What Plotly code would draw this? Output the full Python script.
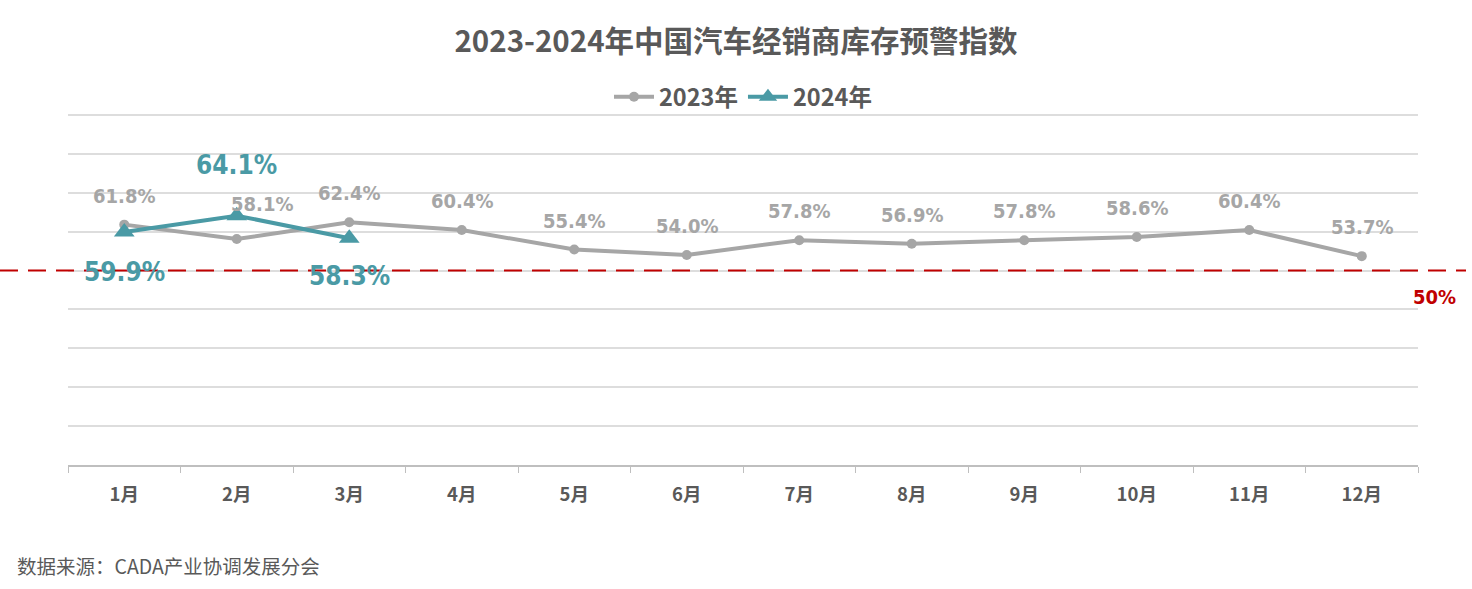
import plotly.graph_objects as go

months = ["1月", "2月", "3月", "4月", "5月", "6月", "7月", "8月", "9月", "10月", "11月", "12月"]
v2023 = [61.8, 58.1, 62.4, 60.4, 55.4, 54.0, 57.8, 56.9, 57.8, 58.6, 60.4, 53.7]
months2024 = ["1月", "2月", "3月"]
v2024 = [59.9, 64.1, 58.3]
warn_line = 50

GRAY = "#A6A6A6"
TEAL = "#4A9AA5"
RED = "#C00000"
CJK = "Noto Sans CJK SC"
NARROW = "DejaVu Sans Condensed, Liberation Sans Narrow, sans-serif"

fig = go.Figure()
fig.add_trace(go.Scatter(x=months, y=v2023, name="2023年", mode="lines+markers",
                         line=dict(color=GRAY, width=4),
                         marker=dict(symbol="circle", size=10, color=GRAY)))
fig.add_trace(go.Scatter(x=months2024, y=v2024, name="2024年", mode="lines+markers",
                         line=dict(color=TEAL, width=4),
                         marker=dict(symbol="triangle-up", size=18, color=TEAL)))

ann = []
for i, (m, v) in enumerate(zip(months, v2023)):
    xs = 25 if i == 1 else 0
    ys = 35 if i == 1 else 29
    ann.append(dict(x=m, y=v, text=f"{v:.1f}%", showarrow=False, xshift=xs, yshift=ys,
                    font=dict(family=NARROW, size=20, color=GRAY, weight="bold")))
shifts24 = [-40, 51, -38]
for m, v, s in zip(months2024, v2024, shifts24):
    ann.append(dict(x=m, y=v, text=f"{v:.1f}%", showarrow=False, yshift=s,
                    font=dict(family=NARROW, size=26, color=TEAL, weight="bold")))
ann.append(dict(x=(1434 - 68) / 1350, xref="paper", xanchor="center", y=warn_line, yref="y",
                yshift=-26, text=f"{warn_line}%", showarrow=False,
                font=dict(family=NARROW, size=20, color=RED, weight="bold")))
ann.append(dict(x=-53 / 1350, xref="paper", xanchor="left", y=(465 - 565) / 350, yref="paper",
                yanchor="middle", text="数据来源：CADA产业协调发展分会", showarrow=False,
                font=dict(family=CJK, size=19.5, color="#595959")))

fig.add_shape(type="line", xref="paper", yref="y", x0=-68 / 1350, x1=(1466 - 68) / 1350,
              y0=warn_line, y1=warn_line, line=dict(color=RED, width=2, dash="18px,10px"))

fig.update_layout(
    width=1472, height=589,
    margin=dict(l=68, r=54, t=113, b=124),
    paper_bgcolor="white", plot_bgcolor="white",
    title=dict(text="2023-2024年中国汽车经销商库存预警指数", x=0.5, xanchor="center",
               y=(589 - 42) / 589, yanchor="middle",
               font=dict(family=CJK, size=29.5, color="#595959", weight="bold")),
    legend=dict(orientation="h", x=0.5, xanchor="center", y=(465 - 97) / 352, yanchor="middle",
                font=dict(family=CJK, size=23.5, color="#595959", weight="bold"),
                itemwidth=40, bgcolor="rgba(0,0,0,0)"),
    annotations=ann,
    showlegend=True,
)
fig.update_xaxes(type="category", showline=True, linecolor="#BFBFBF", linewidth=1.5,
                 ticks="outside", tickson="boundaries", ticklen=6, tickcolor="#BFBFBF",
                 ticklabelstandoff=12,
                 showgrid=False, tickfont=dict(family=CJK, size=18.5, color="#595959", weight="bold"),
                 range=[-0.5, 11.5])
fig.update_yaxes(range=[0, 90.5], tickvals=[10, 20, 30, 40, 50, 60, 70, 80, 90], showgrid=True,
                 gridcolor="#DDDDDD", gridwidth=1.5,
                 showticklabels=False, zeroline=False, showline=False)

fig.write_html("out.html")
